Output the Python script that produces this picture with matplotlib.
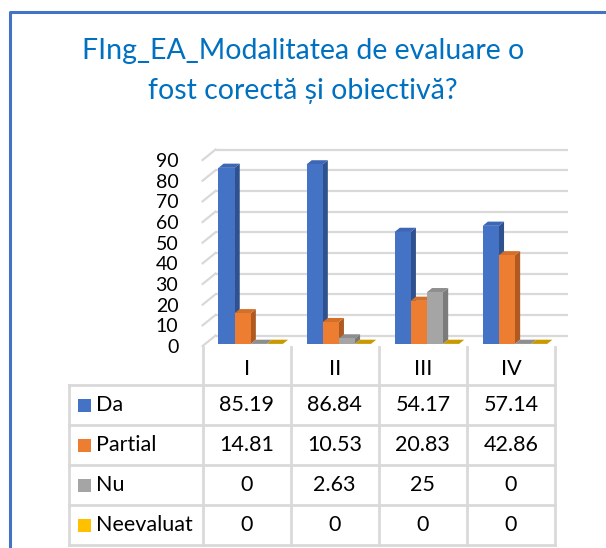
import matplotlib
matplotlib.use('Agg')
import matplotlib.pyplot as plt
from matplotlib.patches import Polygon, Rectangle
from matplotlib.lines import Line2D
import matplotlib.transforms as mtransforms

plt.rcParams['font.family'] = ['Lato', 'DejaVu Sans']

# data
categories = ['I', 'II', 'III', 'IV']
series = ['Da', 'Partial', 'Nu', 'Neevaluat']
da = [85.19, 86.84, 54.17, 57.14]
partial = [14.81, 10.53, 20.83, 42.86]
nu = [0, 2.63, 25, 0]
neevaluat = [0, 0, 0, 0]
values = [da, partial, nu, neevaluat]
yticks = [0, 10, 20, 30, 40, 50, 60, 70, 80, 90]

front = ['#4472C4', '#ED7D31', '#A5A5A5', '#FFC000']
top = ['#3D66B5', '#D46F2A', '#8E8E8E', '#C99A00']
side = ['#2F528F', '#AE5A21', '#7B7B7B', '#BF9000']
grid_c = '#D9D9D9'

W, H = 606, 548
fig = plt.figure(figsize=(W / 100, H / 100), dpi=100)

# front plane of the 3D box: x 202.6..555 px, y 160..346 px (from top)
ax = fig.add_axes([202.6 / W, (H - 346) / H, 352.4 / W, 186 / H])
ax.set_xlim(-0.5, 3.5)
ax.set_ylim(0, 90)
for s in ax.spines.values():
    s.set_visible(False)
ax.set_xticks([])
ax.set_yticks(yticks)
ax.set_yticklabels([str(t) for t in yticks], fontsize=14, color='#000000')
ax.tick_params(axis='y', length=0, pad=17.5)

# depth of the box in data units
dxf = 13 / 88.1
dyf = 10.5 / 2.067

# walls: back gridlines + left wall diagonals
for t in yticks:
    ax.plot([-0.5 + dxf, 3.5 + dxf], [t + dyf, t + dyf], color=grid_c, lw=1.6,
            clip_on=False, zorder=1, solid_capstyle='butt')
    ax.plot([-0.5, -0.5 + dxf], [t, t + dyf], color=grid_c, lw=1.6,
            clip_on=False, zorder=1)

# 3D bars
bw = 0.183
f1, f2 = 0.2, 0.6
z = 3
for c in range(len(categories)):
    for i, vals in enumerate(values):
        v = vals[c]
        x0 = c - 0.35 + i * bw + f1 * dxf
        x1 = x0 + bw
        y0 = f1 * dyf
        y1 = v + f1 * dyf
        ddx = (f2 - f1) * dxf
        ddy = (f2 - f1) * dyf
        ax.add_patch(Polygon([(x1, y0), (x1 + ddx, y0 + ddy), (x1 + ddx, y1 + ddy), (x1, y1)],
                             closed=True, fc=side[i], ec='none', clip_on=False, zorder=z))
        ax.add_patch(Polygon([(x0, y1), (x0 + ddx, y1 + ddy), (x1 + ddx, y1 + ddy), (x1, y1)],
                             closed=True, fc=top[i], ec='none', clip_on=False, zorder=z + 0.1))
        ax.bar(x0, v, width=bw, bottom=y0, align='edge', color=front[i],
               edgecolor='none', zorder=z + 0.2, clip_on=False)
        z += 1

# data table below the plot (x in data units, y in figure fraction)
trans = mtransforms.blended_transform_factory(ax.transData, fig.transFigure)
px = lambda p: (H - p) / H
row_lines = [385, 425, 465, 505, 545]
col_bounds = [-0.5, 0.5, 1.5, 2.5, 3.5]
x_left = -0.5 - (202.6 - 68.7) / 88.1
lk = dict(color=grid_c, lw=2, transform=trans, clip_on=False, zorder=1)

for yl in row_lines:
    fig.add_artist(Line2D([x_left, 3.5], [px(yl), px(yl)], **lk))
fig.add_artist(Line2D([x_left, x_left], [px(385), px(545)], **lk))
for xb in col_bounds:
    fig.add_artist(Line2D([xb, xb], [px(347), px(545)], **lk))

for c, cat in enumerate(categories):
    fig.text(c, px(369), cat, transform=trans, ha='center', va='center', fontsize=15.5)
    for r, vals in enumerate(values):
        yc = px((row_lines[r] + row_lines[r + 1]) / 2)
        fig.text(c, yc, '{:g}'.format(vals[c]), transform=trans, ha='center',
                 va='center', fontsize=15.5)

sq = 13
for r, name in enumerate(series):
    yc = (row_lines[r] + row_lines[r + 1]) / 2
    fig.add_artist(Rectangle((77.5 / W, (H - yc - sq / 2) / H), sq / W, sq / H,
                             transform=fig.transFigure, fc=front[r], ec='none'))
    fig.text(96 / W, px(yc), name, ha='left', va='center', fontsize=15.5)

# title
fig.text(0.5, px(51), 'FIng_EA_Modalitatea de evaluare o', ha='center', va='center',
         fontsize=20.5, color='#0070C0')
fig.text(0.5, px(91), 'fost corectă și obiectivă?', ha='center', va='center',
         fontsize=20.5, color='#0070C0')

# chart border (left and top visible)
bc = '#4472C4'
fig.add_artist(Line2D([10 / W, 10 / W, 1.0], [0.0, px(12), px(12)], color=bc, lw=2.2,
                      transform=fig.transFigure))

fig.savefig('out.png', dpi=100, facecolor='white')
